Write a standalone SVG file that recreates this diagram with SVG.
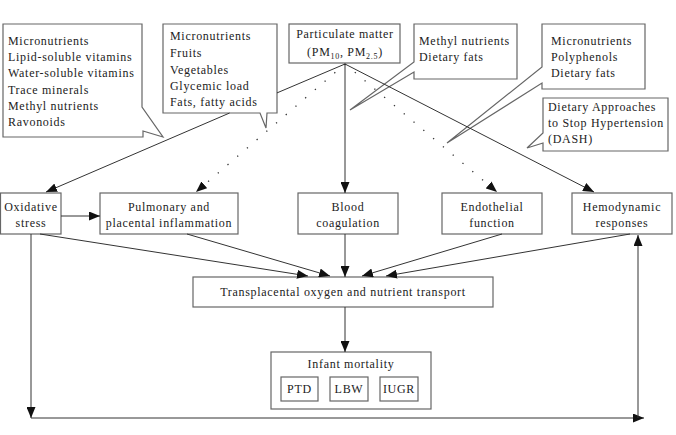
<svg xmlns="http://www.w3.org/2000/svg" width="676" height="435" viewBox="0 0 676 435">
<defs>
<marker id="ah" markerUnits="userSpaceOnUse" markerWidth="11" markerHeight="9" refX="11" refY="4.5" orient="auto">
<path d="M0,0 L11,4.5 L0,9 Z" fill="#111"/>
</marker>
<style>
.box{fill:#fff;stroke:#666;stroke-width:1.2}
.t{font-family:"Liberation Serif","Times New Roman",serif;font-size:12px;letter-spacing:0.7px;fill:#222}
.c{text-anchor:middle}
.ln{fill:none;stroke:#333;stroke-width:1}
.dot{fill:none;stroke:#333;stroke-width:1.3;stroke-dasharray:1.3 11.5}
</style>
</defs>
<rect width="676" height="435" fill="#fff"/>

<g id="callout-micronutrients-1">
<path class="box" d="M3,24 H142 V107 L163,137 L143,131 V137 H3 Z"/>
<text class="t" x="8" y="45">Micronutrients</text>
<text class="t" x="8" y="61">Lipid-soluble vitamins</text>
<text class="t" x="8" y="77">Water-soluble vitamins</text>
<text class="t" x="8" y="94">Trace minerals</text>
<text class="t" x="8" y="110">Methyl nutrients</text>
<text class="t" x="8" y="126">Ravonoids</text>
</g>

<g id="callout-micronutrients-2">
<path class="box" d="M163,24 H277 V113 H267 L266,128 L260,113 H163 Z"/>
<text class="t" x="170" y="40">Micronutrients</text>
<text class="t" x="170" y="57">Fruits</text>
<text class="t" x="170" y="74">Vegetables</text>
<text class="t" x="170" y="90">Glycemic load</text>
<text class="t" x="170" y="106">Fats, fatty acids</text>
</g>

<g id="particulate-matter">
<rect class="box" x="289" y="24" width="111" height="39"/>
<text class="t c" x="345" y="38">Particulate matter</text>
<text class="t c" x="345" y="56">(PM<tspan font-size="8" dy="3">10</tspan><tspan dy="-3">, PM</tspan><tspan font-size="8" dy="3">2.5</tspan><tspan dy="-3">)</tspan></text>
</g>

<g id="callout-methyl">
<path class="box" d="M414,24 H517 V79 H414 V72 L350,110 L414,62 Z"/>
<text class="t" x="419" y="45">Methyl nutrients</text>
<text class="t" x="419" y="61">Dietary fats</text>
</g>

<g id="callout-polyphenols">
<path class="box" d="M542,24 H645 V89 H542 V83 L447,143 L542,67 Z"/>
<text class="t" x="551" y="45">Micronutrients</text>
<text class="t" x="551" y="61">Polyphenols</text>
<text class="t" x="551" y="77">Dietary fats</text>
</g>

<g id="callout-dash">
<path class="box" d="M543,98 H668 V151 H543 V143 L527,148 L543,133 Z"/>
<text class="t" x="548" y="111">Dietary Approaches</text>
<text class="t" x="548" y="127">to Stop Hypertension</text>
<text class="t" x="548" y="143">(DASH)</text>
</g>

<g id="oxidative-stress">
<rect class="box" x="0.5" y="193" width="60.5" height="41"/>
<text class="t c" x="31" y="211">Oxidative</text>
<text class="t c" x="31" y="227">stress</text>
</g>

<g id="pulmonary">
<rect class="box" x="100" y="193" width="138" height="41"/>
<text class="t c" x="169" y="211">Pulmonary and</text>
<text class="t c" x="169" y="227">placental inflammation</text>
</g>

<g id="blood-coagulation">
<rect class="box" x="298" y="193" width="100" height="41"/>
<text class="t c" x="348" y="211">Blood</text>
<text class="t c" x="348" y="227">coagulation</text>
</g>

<g id="endothelial">
<rect class="box" x="442" y="193" width="100" height="41"/>
<text class="t c" x="492" y="211">Endothelial</text>
<text class="t c" x="492" y="227">function</text>
</g>

<g id="hemodynamic">
<rect class="box" x="572" y="193" width="100" height="41"/>
<text class="t c" x="622" y="211">Hemodynamic</text>
<text class="t c" x="622" y="227">responses</text>
</g>

<g id="transplacental">
<rect class="box" x="193" y="277" width="300" height="30"/>
<text class="t c" x="343" y="296">Transplacental oxygen and nutrient transport</text>
</g>

<g id="infant-mortality">
<rect class="box" x="271" y="352" width="160" height="57"/>
<text class="t c" x="351" y="368">Infant mortality</text>
<rect class="box" x="281" y="377" width="37" height="24"/>
<text class="t c" x="299.5" y="393">PTD</text>
<rect class="box" x="330" y="377" width="38" height="24"/>
<text class="t c" x="349" y="393">LBW</text>
<rect class="box" x="380" y="377" width="38" height="24"/>
<text class="t c" x="399" y="393">IUGR</text>
</g>

<g id="connectors">
<path class="ln" d="M345,64 L277,92.9 M229.6,113 L46,192" marker-end="url(#ah)"/>
<path class="ln" d="M61,216 H100" marker-end="url(#ah)"/>
<path class="dot" d="M345,64 L196,192" marker-end="url(#ah)"/>
<path class="ln" d="M345,64 V193" marker-end="url(#ah)"/>
<path class="dot" d="M345,64 L497,192" marker-end="url(#ah)"/>
<path class="ln" d="M345,64 L594,192" marker-end="url(#ah)"/>
<path class="ln" d="M40,234 L308,276" marker-end="url(#ah)"/>
<path class="ln" d="M187,234 L330,276" marker-end="url(#ah)"/>
<path class="ln" d="M345,234 V277" marker-end="url(#ah)"/>
<path class="ln" d="M502,234 L362,276" marker-end="url(#ah)"/>
<path class="ln" d="M630,234 L386,276" marker-end="url(#ah)"/>
<path class="ln" d="M345,307 V352" marker-end="url(#ah)"/>
<path class="ln" d="M31,234 V418" marker-end="url(#ah)"/>
<path class="ln" d="M31,418 H644" marker-end="url(#ah)"/>
<path class="ln" d="M638,418 V235" marker-end="url(#ah)"/>
</g>
</svg>
